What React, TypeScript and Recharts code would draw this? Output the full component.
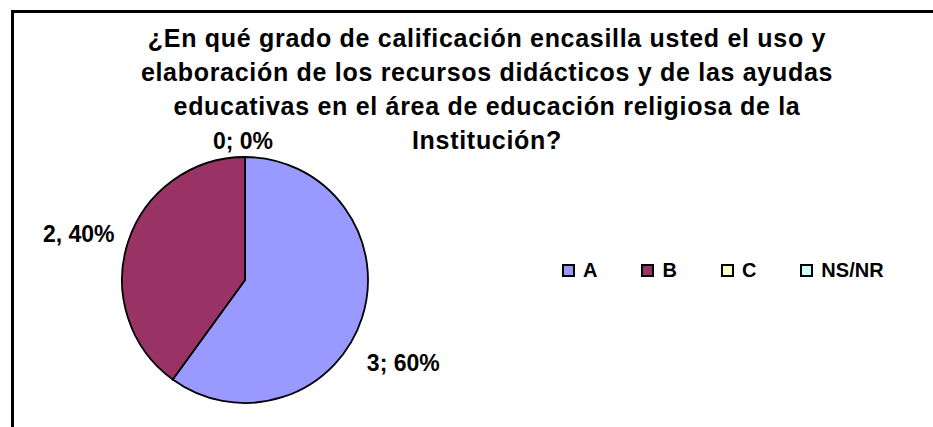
import { PieChart, Pie, Cell, Legend } from 'recharts';

const categories = ['A', 'B', 'C', 'NS/NR'];
const values = [3, 2, 0, 0];
const percents = [60, 40, 0, 0];
const labelTexts = ['3; 60%', '2, 40%', '0; 0%', '0; 0%'];
const titleLines = [
  '¿En qué grado de calificación encasilla usted el uso y',
  'elaboración de los recursos didácticos y de las ayudas',
  'educativas en el área de educación religiosa de la',
  'Institución?',
];

const COLORS = ['#9999FF', '#993366', '#FFFFCC', '#CCFFFF'];
// small hand nudges so labels sit where the original placed them
const LABEL_NUDGE = [
  { dx: -11, dy: 28 },
  { dx: 3, dy: 9 },
  { dx: -2, dy: 39 },
  { dx: -2, dy: 39 },
];
const FONT = '"Liberation Sans", Arial, sans-serif';

const data = categories.map((name, i) => ({ name, value: values[i], pct: percents[i] }));

const RADIAN = Math.PI / 180;

function renderLabel(props: any) {
  const { cx, cy, midAngle, outerRadius, index } = props;
  // both zero slices share one spot: draw the text once
  if (index > 0 && values[index] === 0 && values[index - 1] === 0) return null;
  const r = outerRadius + 55;
  const x = cx + r * Math.cos(-midAngle * RADIAN) + LABEL_NUDGE[index].dx;
  const y = cy + r * Math.sin(-midAngle * RADIAN) + LABEL_NUDGE[index].dy;
  return (
    <text
      x={x}
      y={y}
      textAnchor="middle"
      dominantBaseline="central"
      fill="#000"
      style={{ fontFamily: FONT, fontWeight: 700, fontSize: 23 }}
    >
      {labelTexts[index]}
    </text>
  );
}

function LegendContent({ payload }: any) {
  return (
    <div style={{ display: 'flex', gap: 44, fontFamily: FONT, fontWeight: 700, fontSize: 20 }}>
      {(payload ?? []).map((p: any, i: number) => (
        <div key={`leg-${i}`} style={{ display: 'flex', alignItems: 'center' }}>
          <span
            style={{
              display: 'inline-block',
              width: 9,
              height: 9,
              background: p?.color ?? COLORS[i],
              border: '2px solid #000',
              marginRight: 8,
            }}
          />
          <span>{p?.value}</span>
        </div>
      ))}
    </div>
  );
}

export default function App() {
  return (
    <div
      style={{
        position: 'absolute',
        left: 0,
        top: 0,
        width: 933,
        height: 427,
        overflow: 'hidden',
        background: '#fff',
      }}
    >
      <div
        style={{
          position: 'absolute',
          left: 11,
          top: 10,
          width: 1000,
          height: 600,
          border: '3px solid #000',
        }}
      />
      <div
        style={{
          position: 'absolute',
          left: 37,
          top: 21,
          width: 900,
          textAlign: 'center',
          fontFamily: FONT,
          fontWeight: 700,
          fontSize: 25,
          letterSpacing: 0.7,
          lineHeight: '34px',
          color: '#000',
        }}
      >
        {titleLines.map((t, i) => (
          <div key={`t-${i}`}>{t}</div>
        ))}
      </div>
      <PieChart width={933} height={427} style={{ position: 'absolute', left: 0, top: 0 }}>
        <Pie
          data={data}
          dataKey="value"
          nameKey="name"
          cx={240}
          cy={275}
          outerRadius={123}
          startAngle={90}
          endAngle={-270}
          stroke="#000"
          strokeWidth={1.8}
          label={renderLabel}
          labelLine={false}
          isAnimationActive={false}
        >
          {data.map((entry, index) => (
            <Cell key={`cell-${index}`} fill={COLORS[index]} />
          ))}
        </Pie>
        <Legend
          content={<LegendContent />}
          wrapperStyle={{ position: 'absolute', left: 562, top: 259, width: 'auto' }}
        />
      </PieChart>
    </div>
  );
}
